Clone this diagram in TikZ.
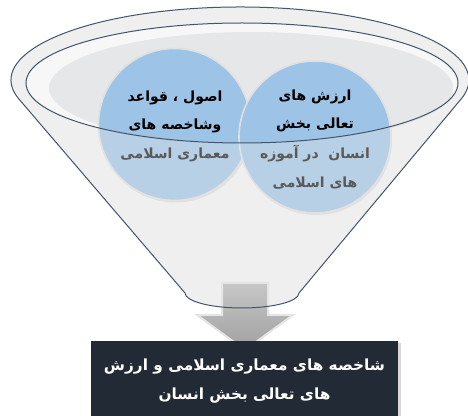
\documentclass[tikz,border=0pt]{standalone}
\usepackage{fontspec}
\newfontfamily\farsi[Script=Arabic]{DejaVu Sans}
\TeXXeTstate=1
\usetikzlibrary{positioning}
\usetikzlibrary{shadows}
\definecolor{rim}{HTML}{44546A}
\definecolor{bowl}{HTML}{F5F5F5}
\definecolor{pool}{HTML}{E6E7E9}
\definecolor{bubble}{HTML}{9DC3E6}
\definecolor{haze}{HTML}{E6E6E6}
\definecolor{greytext}{HTML}{595959}
\definecolor{banner}{HTML}{222A35}
\newcommand{\rtl}[1]{\beginR #1\endR}

\begin{document}
\begin{tikzpicture}[x = 0.75pt, y = -0.75pt,
	bubble/.style = {circle, minimum size = 114pt, fill = bubble, draw = white!88!black, line width = 1.2pt,
		drop shadow = {opacity = 0.2, shadow xshift = 0.8pt, shadow yshift = -1.5pt}},
	title/.style = {font = \farsi\bfseries\fontsize{10.5}{21.5}\selectfont, align = center},
	banner/.style = {fill = banner, text = white, minimum width = 230pt, minimum height = 60pt, inner sep = 0pt,
		font = \farsi\bfseries\fontsize{11.5}{21.5}\selectfont, align = center,
		drop shadow = {opacity = 0.3, shadow xshift = 2pt, shadow yshift = -1.5pt}}]
	\useasboundingbox (0, 0) rectangle (468, 416);
	\fill [bowl] (185, 293) -- (18.8, 98.9) arc [start angle = 165, end angle = 375, x radius = 229, y radius = 73]
		-- (299, 293) arc [start angle = 0, end angle = 180, x radius = 57, y radius = 15] -- cycle;
	\fill [white!97!black] (242, 83) ellipse [x radius = 216, y radius = 60];
	\fill [pool] (251, 88) ellipse [x radius = 202, y radius = 56];
	\node [bubble] (rules) at (174.5, 124.5) {};
	\node [bubble] (values) at (315, 137) {};
	\fill [haze, fill opacity = 0.38, even odd rule] (185, 293) -- (18.8, 98.9) arc [start angle = 165, end angle = 375, x radius = 229, y radius = 73]
		-- (299, 293) arc [start angle = 0, end angle = 180, x radius = 57, y radius = 15] -- cycle
		(242, 83) ellipse [x radius = 216, y radius = 60];
	\node [title] (rules head) at (175, 112) {\rtl{اصول ، قواعد}\\\rtl{وشاخصه های}};
	\node [title, text = greytext] (rules tail) at (175, 155) {\rtl{معماری اسلامی}};
	\node [title] (values head) at (315, 111) {\rtl{ارزش های}\\\rtl{تعالی بخش}};
	\node [title, text = greytext] (values tail) at (315, 167) {\rtl{انسان\ \ در آموزه}\\\rtl{های اسلامی}};
	\draw [white!90!black, line width = 1.5pt, top color = white!78!black, bottom color = white!63!black]
		(222, 283) -- (268, 283) -- (268, 315) -- (293, 315) -- (245, 350) -- (197, 315) -- (222, 315) -- cycle;
	\draw [rim, line width = 0.75pt] (185, 293) -- (18.8, 98.9) arc [start angle = 165, end angle = 375, x radius = 229, y radius = 73]
		-- (299, 293) arc [start angle = 0, end angle = 180, x radius = 57, y radius = 15];
	\draw [rim, line width = 0.75pt] (242, 83) ellipse [x radius = 216, y radius = 60];
	\node [banner] (result) at (244.5, 381) {\rtl{شاخصه های معماری اسلامی و ارزش}\\\rtl{های تعالی بخش انسان}};
\end{tikzpicture}
\end{document}
